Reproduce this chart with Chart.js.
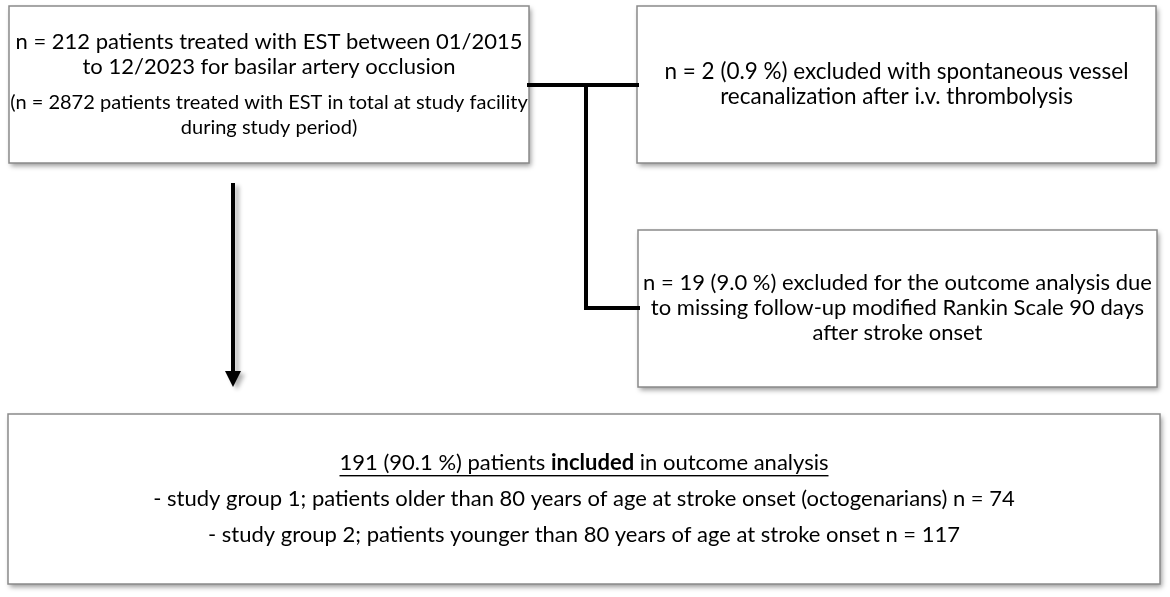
<!DOCTYPE html>
<html>
<head>
<meta charset="utf-8">
<script src="https://cdn.jsdelivr.net/npm/chart.js@4"></script>
<style>
  html, body { margin: 0; padding: 0; background: #fff; }
  #flow { display: block; }
</style>
</head>
<body>
<canvas id="flow" width="1170" height="597"></canvas>
<script>
// flowchart data
const cohortCount = [212];
const studyPeriod = ["01/2015", "12/2023"];
const facilityCount = [2872];
const excludedCounts = [2, 19];
const excludedPercents = ["0.9", "9.0"];
const includedCount = [191];
const includedPercent = ["90.1"];
const groupCounts = [74, 117];
const ageCutoff = [80];
const followUpDays = [90];

// layout in chart units (x 0..1170, y 0..597 from top)
const boxes = [
  { x0: 9, x1: 529, y0: 6, y1: 163 },
  { x0: 637, x1: 1156, y0: 6, y1: 163 },
  { x0: 638, x1: 1157, y0: 230, y1: 387 },
  { x0: 8, x1: 1160, y0: 414, y1: 584 }
];
const connectors = [
  [[529, 85], [637, 85]],
  [[586, 85], [586, 308]],
  [[586, 308], [638, 308]]
];
const arrow = { x: 233, y0: 183, y1: 387 };

const FONT = "Lato, 'Open Sans', sans-serif";

const boxTexts = [
  [
    { t: `n = ${cohortCount[0]} patients treated with EST between ${studyPeriod[0]}`, y: 42, s: 22 },
    { t: `to ${studyPeriod[1]} for basilar artery occlusion`, y: 67, s: 22 },
    { t: `(n = ${facilityCount[0]} patients treated with EST in total at study facility`, y: 103, s: 20 },
    { t: "during study period)", y: 128, s: 20 }
  ],
  [
    { t: `n = ${excludedCounts[0]} (${excludedPercents[0]} %) excluded with spontaneous vessel`, y: 72, s: 22.5 },
    { t: "recanalization after i.v. thrombolysis", y: 97, s: 22.5 }
  ],
  [
    { t: `n = ${excludedCounts[1]} (${excludedPercents[1]} %) excluded for the outcome analysis due`, y: 283, s: 22 },
    { t: `to missing follow-up modified Rankin Scale ${followUpDays[0]} days`, y: 308, s: 22 },
    { t: "after stroke onset", y: 333, s: 22 }
  ],
  [
    { t: `- study group 1; patients older than ${ageCutoff[0]} years of age at stroke onset (octogenarians) n = ${groupCounts[0]}`, y: 499, s: 22 },
    { t: `- study group 2; patients younger than ${ageCutoff[0]} years of age at stroke onset n = ${groupCounts[1]}`, y: 535, s: 22 }
  ]
];
const headline = [
  { t: `${includedCount[0]} (${includedPercent[0]} %) patients `, bold: false },
  { t: "included", bold: true },
  { t: " in outcome analysis", bold: false }
];

const flowPlugin = {
  id: "flow",
  afterDraw(chart) {
    const ctx = chart.ctx;
    const sx = chart.scales.x, sy = chart.scales.y;
    const px = v => sx.getPixelForValue(v);
    const py = v => sy.getPixelForValue(v);

    // boxes with drop shadow
    boxes.forEach(b => {
      const x = px(b.x0), y = py(b.y0), w = px(b.x1) - x, h = py(b.y1) - y;
      ctx.save();
      ctx.shadowColor = "rgba(0,0,0,0.4)";
      ctx.shadowBlur = 5;
      ctx.shadowOffsetX = 2;
      ctx.shadowOffsetY = 3;
      ctx.fillStyle = "#fff";
      ctx.fillRect(x, y, w, h);
      ctx.restore();
      ctx.save();
      ctx.strokeStyle = "#8a8a8a";
      ctx.lineWidth = 1.5;
      ctx.strokeRect(x, y, w, h);
      ctx.restore();
    });

    // connectors
    ctx.save();
    ctx.strokeStyle = "#000";
    ctx.lineWidth = 4;
    ctx.lineCap = "square";
    connectors.forEach(seg => {
      ctx.beginPath();
      ctx.moveTo(px(seg[0][0]), py(seg[0][1]));
      ctx.lineTo(px(seg[1][0]), py(seg[1][1]));
      ctx.stroke();
    });
    ctx.restore();

    // down arrow
    ctx.save();
    ctx.shadowColor = "rgba(0,0,0,0.3)";
    ctx.shadowBlur = 4;
    ctx.shadowOffsetX = 4;
    ctx.shadowOffsetY = 3;
    const ax = px(arrow.x), ay0 = py(arrow.y0), ay1 = py(arrow.y1);
    ctx.fillStyle = "#000";
    ctx.fillRect(ax - 2, ay0, 4, ay1 - ay0 - 14);
    ctx.beginPath();
    ctx.moveTo(ax - 8, ay1 - 16);
    ctx.lineTo(ax + 8, ay1 - 16);
    ctx.lineTo(ax, ay1);
    ctx.closePath();
    ctx.fill();
    ctx.restore();

    // box texts
    ctx.save();
    ctx.fillStyle = "#000";
    ctx.textAlign = "center";
    ctx.textBaseline = "middle";
    boxTexts.forEach((lines, i) => {
      const b = boxes[i];
      const cx = px((b.x0 + b.x1) / 2);
      lines.forEach(l => {
        ctx.font = `${l.s}px ${FONT}`;
        ctx.fillText(l.t, cx, py(l.y));
      });
    });
    ctx.restore();

    // headline of the bottom box: underlined, one word bold
    ctx.save();
    ctx.fillStyle = "#000";
    ctx.textBaseline = "middle";
    ctx.textAlign = "left";
    const size = 22, hy = py(463);
    const fontOf = seg => `${seg.bold ? "bold " : ""}${size}px ${FONT}`;
    const widths = headline.map(seg => { ctx.font = fontOf(seg); return ctx.measureText(seg.t).width; });
    const total = widths.reduce((a, c) => a + c, 0);
    let x = px((boxes[3].x0 + boxes[3].x1) / 2) - total / 2;
    const startX = x;
    headline.forEach((seg, i) => {
      ctx.font = fontOf(seg);
      ctx.fillText(seg.t, x, hy);
      x += widths[i];
    });
    ctx.fillRect(startX, hy + 12, total, 1.4);
    ctx.restore();
  }
};

new Chart(document.getElementById("flow"), {
  type: "scatter",
  data: { datasets: [{ data: [], pointRadius: 0 }] },
  options: {
    responsive: false,
    animation: false,
    devicePixelRatio: 1,
    layout: { padding: 0 },
    plugins: { legend: { display: false }, tooltip: { enabled: false } },
    scales: {
      x: { type: "linear", min: 0, max: 1170, display: false },
      y: { type: "linear", min: 0, max: 597, reverse: true, display: false }
    }
  },
  plugins: [flowPlugin]
});
</script>
</body>
</html>
